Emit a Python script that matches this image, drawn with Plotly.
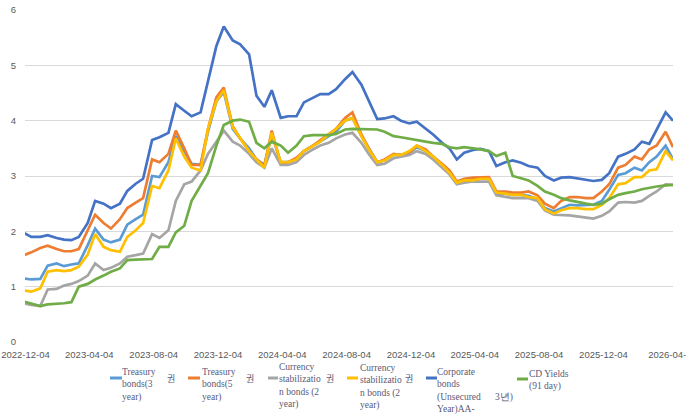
import pandas as pd
import plotly.graph_objects as go

# semi-monthly observation dates
dates = pd.date_range("2022-12-01", "2026-04-15", freq="SMS")

treasury_3y = [1.15, 1.13, 1.14, 1.38, 1.42, 1.37, 1.40, 1.42, 1.75, 2.05,
               1.85, 1.80, 1.85, 2.12, 2.22, 2.30, 3.00, 2.98, 3.25, 3.72,
               3.45, 3.22, 3.20, 3.80, 4.35, 4.52, 3.85, 3.68, 3.50, 3.30,
               3.20, 3.75, 3.25, 3.25, 3.30, 3.45, 3.55, 3.62, 3.72, 3.80,
               4.00, 4.05, 3.72, 3.50, 3.25, 3.28, 3.38, 3.38, 3.42, 3.52,
               3.45, 3.35, 3.20, 3.08, 2.88, 2.92, 2.93, 2.95, 2.95, 2.68,
               2.68, 2.66, 2.66, 2.64, 2.58, 2.42, 2.36, 2.42, 2.48, 2.47,
               2.48, 2.48, 2.55, 2.75, 3.02, 3.05, 3.15, 3.10, 3.25, 3.35,
               3.55, 3.30]

treasury_5y = [1.57, 1.62, 1.70, 1.74, 1.68, 1.64, 1.64, 1.68, 2.02, 2.30,
               2.15, 2.05, 2.22, 2.42, 2.52, 2.60, 3.30, 3.25, 3.40, 3.82,
               3.50, 3.20, 3.20, 3.85, 4.42, 4.60, 3.90, 3.68, 3.45, 3.30,
               3.18, 3.82, 3.22, 3.25, 3.33, 3.45, 3.55, 3.65, 3.75, 3.85,
               4.05, 4.15, 3.75, 3.50, 3.25, 3.30, 3.40, 3.38, 3.42, 3.55,
               3.48, 3.35, 3.22, 3.10, 2.90, 2.95, 2.97, 2.98, 2.98, 2.72,
               2.72, 2.70, 2.70, 2.72, 2.65, 2.50, 2.42, 2.55, 2.62, 2.62,
               2.60, 2.60, 2.72, 2.85, 3.15, 3.20, 3.35, 3.30, 3.48, 3.55,
               3.80, 3.52]

msb_gray = [0.70, 0.67, 0.65, 0.95, 0.96, 1.02, 1.05, 1.10, 1.20, 1.42,
            1.30, 1.34, 1.42, 1.54, 1.57, 1.60, 1.95, 1.88, 2.02, 2.55,
            2.85, 2.90, 3.10, 3.40, 3.62, 3.82, 3.62, 3.55, 3.40, 3.25,
            3.15, 3.50, 3.20, 3.20, 3.25, 3.38, 3.48, 3.55, 3.60, 3.68,
            3.75, 3.78, 3.60, 3.40, 3.20, 3.22, 3.32, 3.35, 3.38, 3.45,
            3.40, 3.30, 3.15, 3.03, 2.85, 2.88, 2.90, 2.90, 2.90, 2.65,
            2.62, 2.60, 2.60, 2.60, 2.55, 2.38, 2.30, 2.30, 2.29, 2.27,
            2.25, 2.23, 2.28, 2.36, 2.52, 2.53, 2.52, 2.55, 2.64, 2.72,
            2.85, 2.84]

msb_yellow = [0.93, 0.91, 0.97, 1.27, 1.30, 1.28, 1.30, 1.36, 1.58, 1.95,
              1.72, 1.66, 1.63, 1.90, 2.02, 2.15, 2.82, 2.78, 3.10, 3.68,
              3.35, 3.15, 3.10, 3.85, 4.35, 4.55, 3.88, 3.68, 3.45, 3.30,
              3.15, 3.78, 3.25, 3.25, 3.30, 3.45, 3.55, 3.62, 3.75, 3.85,
              4.00, 4.05, 3.72, 3.48, 3.25, 3.28, 3.38, 3.38, 3.45, 3.55,
              3.45, 3.35, 3.20, 3.06, 2.88, 2.92, 2.92, 2.95, 2.95, 2.70,
              2.68, 2.66, 2.66, 2.62, 2.60, 2.40, 2.32, 2.38, 2.42, 2.42,
              2.40, 2.40, 2.48, 2.60, 2.85, 2.87, 2.98, 2.98, 3.10, 3.12,
              3.45, 3.28]

corporate_aa = [1.97, 1.90, 1.90, 1.93, 1.88, 1.85, 1.84, 1.90, 2.15, 2.55,
                2.50, 2.42, 2.50, 2.73, 2.86, 2.95, 3.65, 3.70, 3.78, 4.30,
                4.18, 4.08, 4.15, 4.72, 5.35, 5.70, 5.45, 5.38, 5.20, 4.45,
                4.25, 4.55, 4.05, 4.08, 4.08, 4.33, 4.42, 4.48, 4.48, 4.57,
                4.75, 4.88, 4.65, 4.35, 4.03, 4.04, 4.08, 4.00, 3.95, 3.98,
                3.85, 3.75, 3.60, 3.50, 3.30, 3.42, 3.47, 3.49, 3.45, 3.18,
                3.25, 3.28, 3.24, 3.18, 3.15, 3.00, 2.92, 2.97, 2.98, 2.96,
                2.94, 2.91, 2.93, 3.05, 3.35, 3.40, 3.48, 3.62, 3.58, 3.85,
                4.15, 4.00]

cd_91d = [0.73, 0.70, 0.65, 0.68, 0.69, 0.70, 0.72, 1.00, 1.05, 1.13,
          1.20, 1.27, 1.33, 1.48, 1.49, 1.49, 1.50, 1.72, 1.72, 1.98,
          2.10, 2.55, 2.82, 3.05, 3.55, 3.92, 4.00, 4.02, 3.98, 3.60,
          3.50, 3.62, 3.55, 3.42, 3.55, 3.72, 3.74, 3.74, 3.74, 3.76,
          3.84, 3.85, 3.85, 3.85, 3.84, 3.80, 3.72, 3.70, 3.67, 3.65,
          3.62, 3.60, 3.58, 3.52, 3.50, 3.52, 3.50, 3.48, 3.45, 3.36,
          3.42, 3.00, 2.96, 2.92, 2.82, 2.72, 2.66, 2.60, 2.56, 2.53,
          2.50, 2.48, 2.50, 2.58, 2.66, 2.69, 2.72, 2.76, 2.79, 2.81,
          2.83, 2.84]

tick_dates = ["2022-12-04", "2023-04-04", "2023-08-04", "2023-12-04",
              "2024-04-04", "2024-08-04", "2024-12-04", "2025-04-04",
              "2025-08-04", "2025-12-04", "2026-04-04"]
tick_labels = ["2022-12-04", "2023-04-04", "2023-08-04", "2023-12-04",
               "2024-04-04", "2024-08-04", "2024-12-04", "2025-04-04",
               "2025-08-04", "2025-12-04", "2026-04-"]

series = [
    (treasury_3y, "#5B9BD5", ["Treasury", "bonds(3", "year)"]),
    (treasury_5y, "#ED7D31", ["Treasury", "bonds(5", "year)"]),
    (msb_gray, "#A5A5A5", ["Currency", "stabilizatio", "n bonds (2", "year)"]),
    (msb_yellow, "#FFC000", ["Currency", "stabilizatio", "n bonds (2", "year)"]),
    (corporate_aa, "#4472C4", ["Corporate", "bonds", "(Unsecured\u00a0\u00a0\u00a0\u00a0\u00a0 3년)", "Year)AA-"]),
    (cd_91d, "#70AD47", ["CD Yields", "(91 day)"]),
]

fig = go.Figure()
for vals, color, name in series:
    fig.add_trace(go.Scatter(x=dates, y=vals, mode="lines", name=" ".join(name),
                             line=dict(color=color, width=2.7), showlegend=False))

# plot area in pixels
L, R, T, B = 25, 673, 10, 342
W, H = 692, 417


def px(x):
    return (x - L) / (R - L)


def py(y):
    return (B - y) / (B - T)


# manual legend (layout positions in pixels)
legend_pos = [
    # symbol x0, x1, y, text x, text center y, 권 x
    (110, 122, 378, 121, 384.5, 166),
    (188, 200, 378, 201, 384.5, 245),
    (268, 278, 378, 278, 386.0, 325),
    (347, 358, 378, 359, 386.5, 404),
    (426, 437, 378, 436, 390.5, None),
    (517, 528, 379, 528, 380.5, None),
]
shapes = []
annotations = []
legend_font = dict(family="Liberation Serif", size=9.5, color="#5a5a76")
for (vals, color, name), (sx0, sx1, sy, tx, ty, kx) in zip(series, legend_pos):
    shapes.append(dict(type="line", xref="paper", yref="paper",
                       x0=px(sx0), x1=px(sx1), y0=py(sy), y1=py(sy),
                       line=dict(color=color, width=3)))
    annotations.append(dict(xref="paper", yref="paper", x=px(tx), y=py(ty),
                            xanchor="left", yanchor="middle", align="left",
                            showarrow=False, text="<br>".join(name),
                            font=legend_font, borderpad=0))
    if kx is not None:
        annotations.append(dict(xref="paper", yref="paper", x=px(kx), y=py(378),
                                xanchor="left", yanchor="middle", showarrow=False,
                                text="권", borderpad=0,
                                font=dict(family="Noto Sans CJK KR", size=9, color="#5a5a76")))

fig.update_layout(
    width=W, height=H,
    margin=dict(l=L, r=W - R, t=T, b=H - B, autoexpand=False),
    paper_bgcolor="white", plot_bgcolor="white",
    shapes=shapes, annotations=annotations,
    xaxis=dict(type="date", range=["2022-12-03", "2026-04-15"],
               tickvals=tick_dates, ticktext=tick_labels, automargin=False,
               showgrid=False, zeroline=False, showline=False, ticks="",
               ticklabelstandoff=5,
               tickfont=dict(family="Liberation Sans", size=9.5, color="#595959")),
    yaxis=dict(range=[0, 6], tickvals=[0, 1, 2, 3, 4, 5, 6], automargin=False,
               showgrid=True, gridcolor="#d9d9d9", gridwidth=1,
               zeroline=False, showline=False, ticks="",
               ticklabelstandoff=8,
               tickfont=dict(family="Liberation Sans", size=9.5, color="#595959")),
)

fig.write_html("out.html")
